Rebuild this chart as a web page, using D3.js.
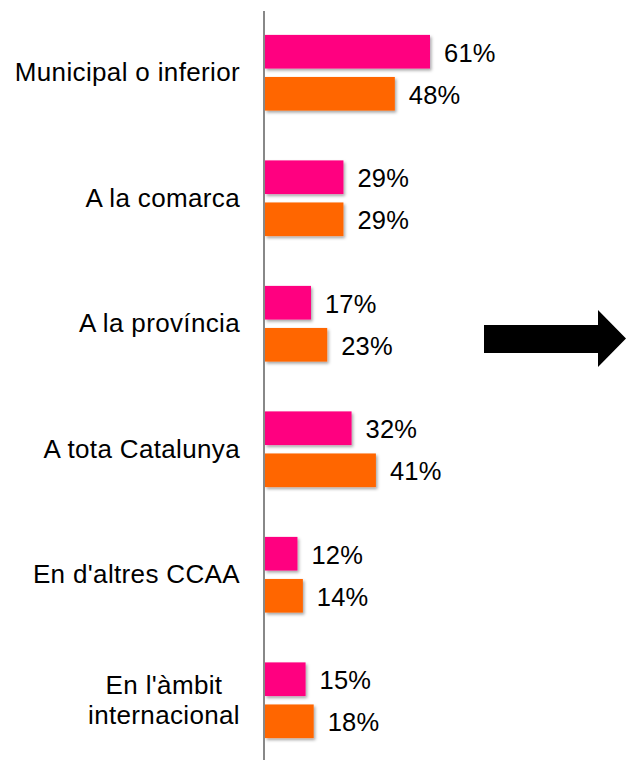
<!DOCTYPE html>
<html>
<head>
<meta charset="utf-8">
<script src="https://cdn.jsdelivr.net/npm/d3@7"></script>
<style>
  html, body { margin: 0; padding: 0; background: #fff; }
  svg { display: block; font-family: Arial, "Liberation Sans", sans-serif; }
</style>
</head>
<body>
<svg id="chart" width="628" height="760"></svg>
<script>
const categories = ["Municipal o inferior", "A la comarca", "A la província", "A tota Catalunya", "En d'altres CCAA", "En l'àmbit\ninternacional"];
const seriesNames = ["Sèrie 1", "Sèrie 2"];
const series1 = [61, 29, 17, 32, 12, 15];
const series2 = [48, 29, 23, 41, 14, 18];
const colors = ["#FF0080", "#FF6600"];

const svg = d3.select("#chart");
const defs = svg.append("defs");
const f = defs.append("filter").attr("id", "shadow").attr("x", "-10%").attr("y", "-20%").attr("width", "130%").attr("height", "160%");
f.append("feDropShadow").attr("dx", 1.5).attr("dy", 2).attr("stdDeviation", 1.5).attr("flood-color", "#000").attr("flood-opacity", 0.35);

const axisX = 264;
const x = d3.scaleLinear().domain([0, 100]).range([axisX + 1, axisX + 1 + 270.5]);
const y = d3.scaleBand().domain(categories).range([10, 763]).paddingInner(0).paddingOuter(0);
const yInner = d3.scaleBand().domain(seriesNames).range([24.9, 100.6]).paddingInner(0.2);

const rows = categories.map((c, i) => ({ cat: c, vals: [series1[i], series2[i]] }));

const g = svg.append("g");
const groups = g.selectAll("g.grp").data(rows).join("g").attr("class", "grp")
  .attr("transform", d => `translate(0,${y(d.cat)})`);

groups.selectAll("rect").data(d => d.vals.map((v, k) => ({ v, k })))
  .join("rect")
  .attr("x", x(0))
  .attr("y", d => yInner(seriesNames[d.k]))
  .attr("width", d => x(d.v) - x(0))
  .attr("height", yInner.bandwidth())
  .attr("fill", d => colors[d.k])
  .attr("filter", "url(#shadow)");

groups.selectAll("text.val").data(d => d.vals.map((v, k) => ({ v, k })))
  .join("text").attr("class", "val")
  .attr("x", d => x(d.v) + 14)
  .attr("y", d => yInner(seriesNames[d.k]) + yInner.bandwidth() / 2 + 1)
  .attr("dy", "0.35em")
  .attr("font-size", 25.5)
  .attr("letter-spacing", 0.2)
  .attr("fill", "#000")
  .text(d => d.v + "%");

// Category labels
const labelRight = 240;
groups.each(function(d) {
  const lines = d.cat.split("\n");
  const grp = d3.select(this);
  const cy = y.bandwidth() / 2;
  const lh = 30;
  const t = grp.append("text").attr("class", "cat").attr("font-size", 26).attr("letter-spacing", 0.35).attr("fill", "#000");
  if (lines.length === 1) {
    t.attr("x", labelRight).attr("y", cy).attr("dy", "0.32em").attr("text-anchor", "end").text(lines[0]);
  } else {
    lines.forEach((ln, j) => {
      t.append("tspan").attr("y", cy + (j - (lines.length - 1) / 2) * lh).attr("dy", "0.32em").text(ln);
    });
    const tspans = t.selectAll("tspan").nodes();
    const maxW = d3.max(tspans, n => n.getComputedTextLength());
    t.attr("text-anchor", "middle");
    t.selectAll("tspan").attr("x", labelRight - maxW / 2);
  }
});

// Axis line
const yAxis = d3.axisLeft(y).tickSize(0).tickFormat("");
const ax = svg.append("g").attr("transform", `translate(${axisX},0)`).call(yAxis);
ax.select(".domain").attr("stroke", "#888").attr("stroke-width", 2).attr("d", `M0,11V${y.range()[1]}`);

// Arrow decoration
svg.append("path")
  .attr("d", "M484,325H598V310L626,338.5L598,367V353H484Z")
  .attr("fill", "#000");
</script>
</body>
</html>
